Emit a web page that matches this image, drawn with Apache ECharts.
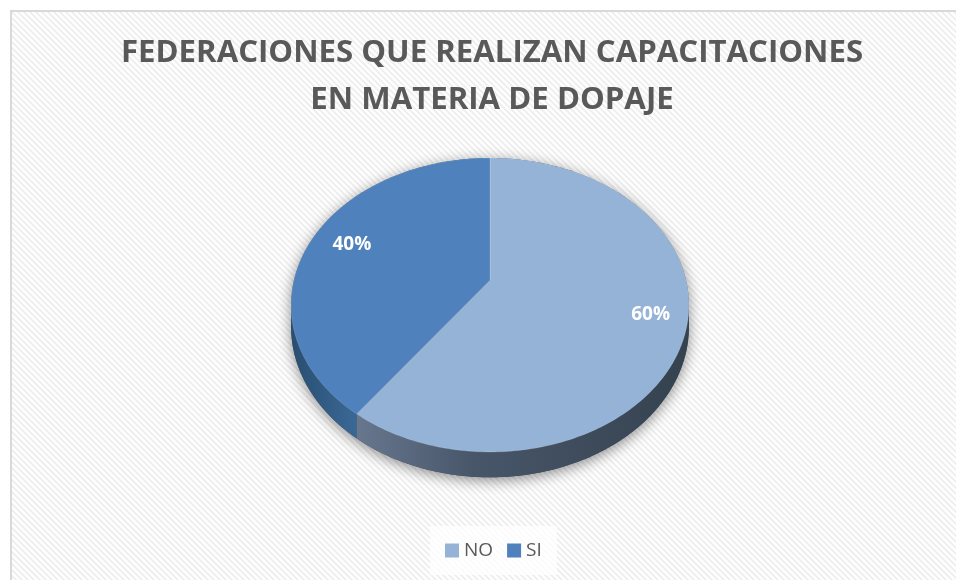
<!DOCTYPE html>
<html>
<head>
<meta charset="utf-8">
<title>Federaciones que realizan capacitaciones</title>
<script src="https://cdn.jsdelivr.net/npm/echarts@6.0.0/dist/echarts.min.js"></script>
<style>
  html, body { margin: 0; padding: 0; background: #fff; }
  #chart { width: 956px; height: 580px; }
</style>
</head>
<body>
<div id="chart"></div>
<script>
// data
const categories = ['NO', 'SI']
const values = [60, 40]
const titleLines = ['FEDERACIONES QUE REALIZAN CAPACITACIONES', 'EN MATERIA DE DOPAJE']

const colors = ['#95b3d7', '#4f81bd']
const sideFill = [
  { type: 'linear', x: 0, y: 0, x2: 1, y2: 0, colorStops: [
    { offset: 0, color: '#67778e' }, { offset: 0.35, color: '#48566a' }, { offset: 1, color: '#34424f' }] },
  { type: 'linear', x: 0, y: 0, x2: 1, y2: 0, colorStops: [
    { offset: 0, color: '#294e70' }, { offset: 1, color: '#3a6896' }] }
]

// perspective pie: apex (cx, cy), half width b, half height d, perspective k
const cx = 490, cy = 280, b = 196, d = 142.75, k = 0.17, depth = 21
// silhouette of the side wall
const silA = Math.acos(-k) * 180 / Math.PI

const total = values.reduce((a, c) => a + c, 0)
const starts = []
values.reduce((acc, v, i) => { starts[i] = acc; return acc + v }, 0)

// point on the disc, angle in degrees clockwise from 12 o'clock, rho = radius fraction
function proj(deg, rho, down) {
  const t = deg * Math.PI / 180
  const u = rho * Math.sin(t)
  const v = -rho * Math.cos(t)
  const w = 1 - k * v
  return [cx + b * u / w, cy + d * v / w + (down ? depth / w : 0)]
}

function arc(a0, a1, down) {
  const pts = []
  const n = Math.max(2, Math.ceil(Math.abs(a1 - a0)))
  for (let i = 0; i <= n; i++) pts.push(proj(a0 + (a1 - a0) * i / n, 1, down))
  return pts
}

function renderSlice(i) {
  return function (params, api) {
    const v = api.value(0)
    const a0 = starts[i] / total * 360
    const a1 = a0 + v / total * 360
    const children = []
    const s = Math.max(a0, silA)
    const e = Math.min(a1, 360 - silA)
    if (e > s) {
      children.push({
        type: 'polygon',
        shape: { points: arc(s, e, false).concat(arc(e, s, true)) },
        style: { fill: sideFill[i] }
      })
    }
    children.push({
      type: 'polygon',
      shape: { points: [proj(0, 0)].concat(arc(a0, a1, false)) },
      style: { fill: api.visual('color'), stroke: 'rgba(255,255,255,0.25)', lineWidth: 0.6 }
    })
    const p = proj((a0 + a1) / 2, 0.8)
    children.push({
      type: 'text',
      x: p[0] + 5,
      y: p[1] - 2,
      style: {
        text: Math.round(v / total * 100) + '%',
        fill: '#fff',
        font: 'bold 19px "Open Sans"',
        align: 'center',
        verticalAlign: 'middle'
      }
    })
    return { type: 'group', children }
  }
}

// striped chart background
const tile = document.createElement('canvas')
tile.width = 6
tile.height = 6
const g = tile.getContext('2d')
g.fillStyle = '#ffffff'
g.fillRect(0, 0, 6, 6)
g.strokeStyle = '#efefef'
g.lineWidth = 2
g.beginPath()
g.moveTo(-1, -1); g.lineTo(7, 7)
g.moveTo(-4, 2); g.lineTo(2, 8)
g.moveTo(2, -4); g.lineTo(8, 2)
g.stroke()

const shadowShape = arc(360 - silA, 360 + silA, false).concat(arc(silA, 360 - silA, true))

const chart = echarts.init(document.getElementById('chart'))
chart.setOption({
  animation: false,
  backgroundColor: '#fff',
  color: colors,
  graphic: [
    {
      type: 'rect', z: -10, silent: true,
      shape: { x: 11, y: 11, width: 960, height: 590 },
      style: { fill: { image: tile, repeat: 'repeat' }, stroke: '#d9d9d9', lineWidth: 2 }
    },
    {
      type: 'polygon', z: -5, silent: true,
      shape: { points: shadowShape },
      style: { fill: '#3a4655', shadowBlur: 14, shadowColor: 'rgba(0,0,0,0.45)', shadowOffsetY: 3 }
    },
    {
      type: 'text', z: 5, silent: true,
      x: 492, y: 30,
      style: {
        text: titleLines.join('\n'),
        fill: '#595959',
        font: 'bold 31.2px "Open Sans"',
        lineHeight: 47,
        align: 'center',
        verticalAlign: 'top'
      }
    }
  ],
  legend: {
    data: categories,
    left: 430,
    top: 526,
    padding: [15, 15],
    backgroundColor: 'rgba(255,255,255,0.75)',
    icon: 'rect',
    itemWidth: 14,
    itemHeight: 14,
    itemGap: 14,
    selectedMode: false,
    textStyle: { color: '#595959', fontSize: 19, fontFamily: 'Open Sans' }
  },
  series: categories.map((name, i) => ({
    type: 'custom',
    name: name,
    coordinateSystem: 'none',
    silent: true,
    renderItem: renderSlice(i),
    data: [{ name: name, value: [values[i]] }]
  }))
})
</script>
</body>
</html>
